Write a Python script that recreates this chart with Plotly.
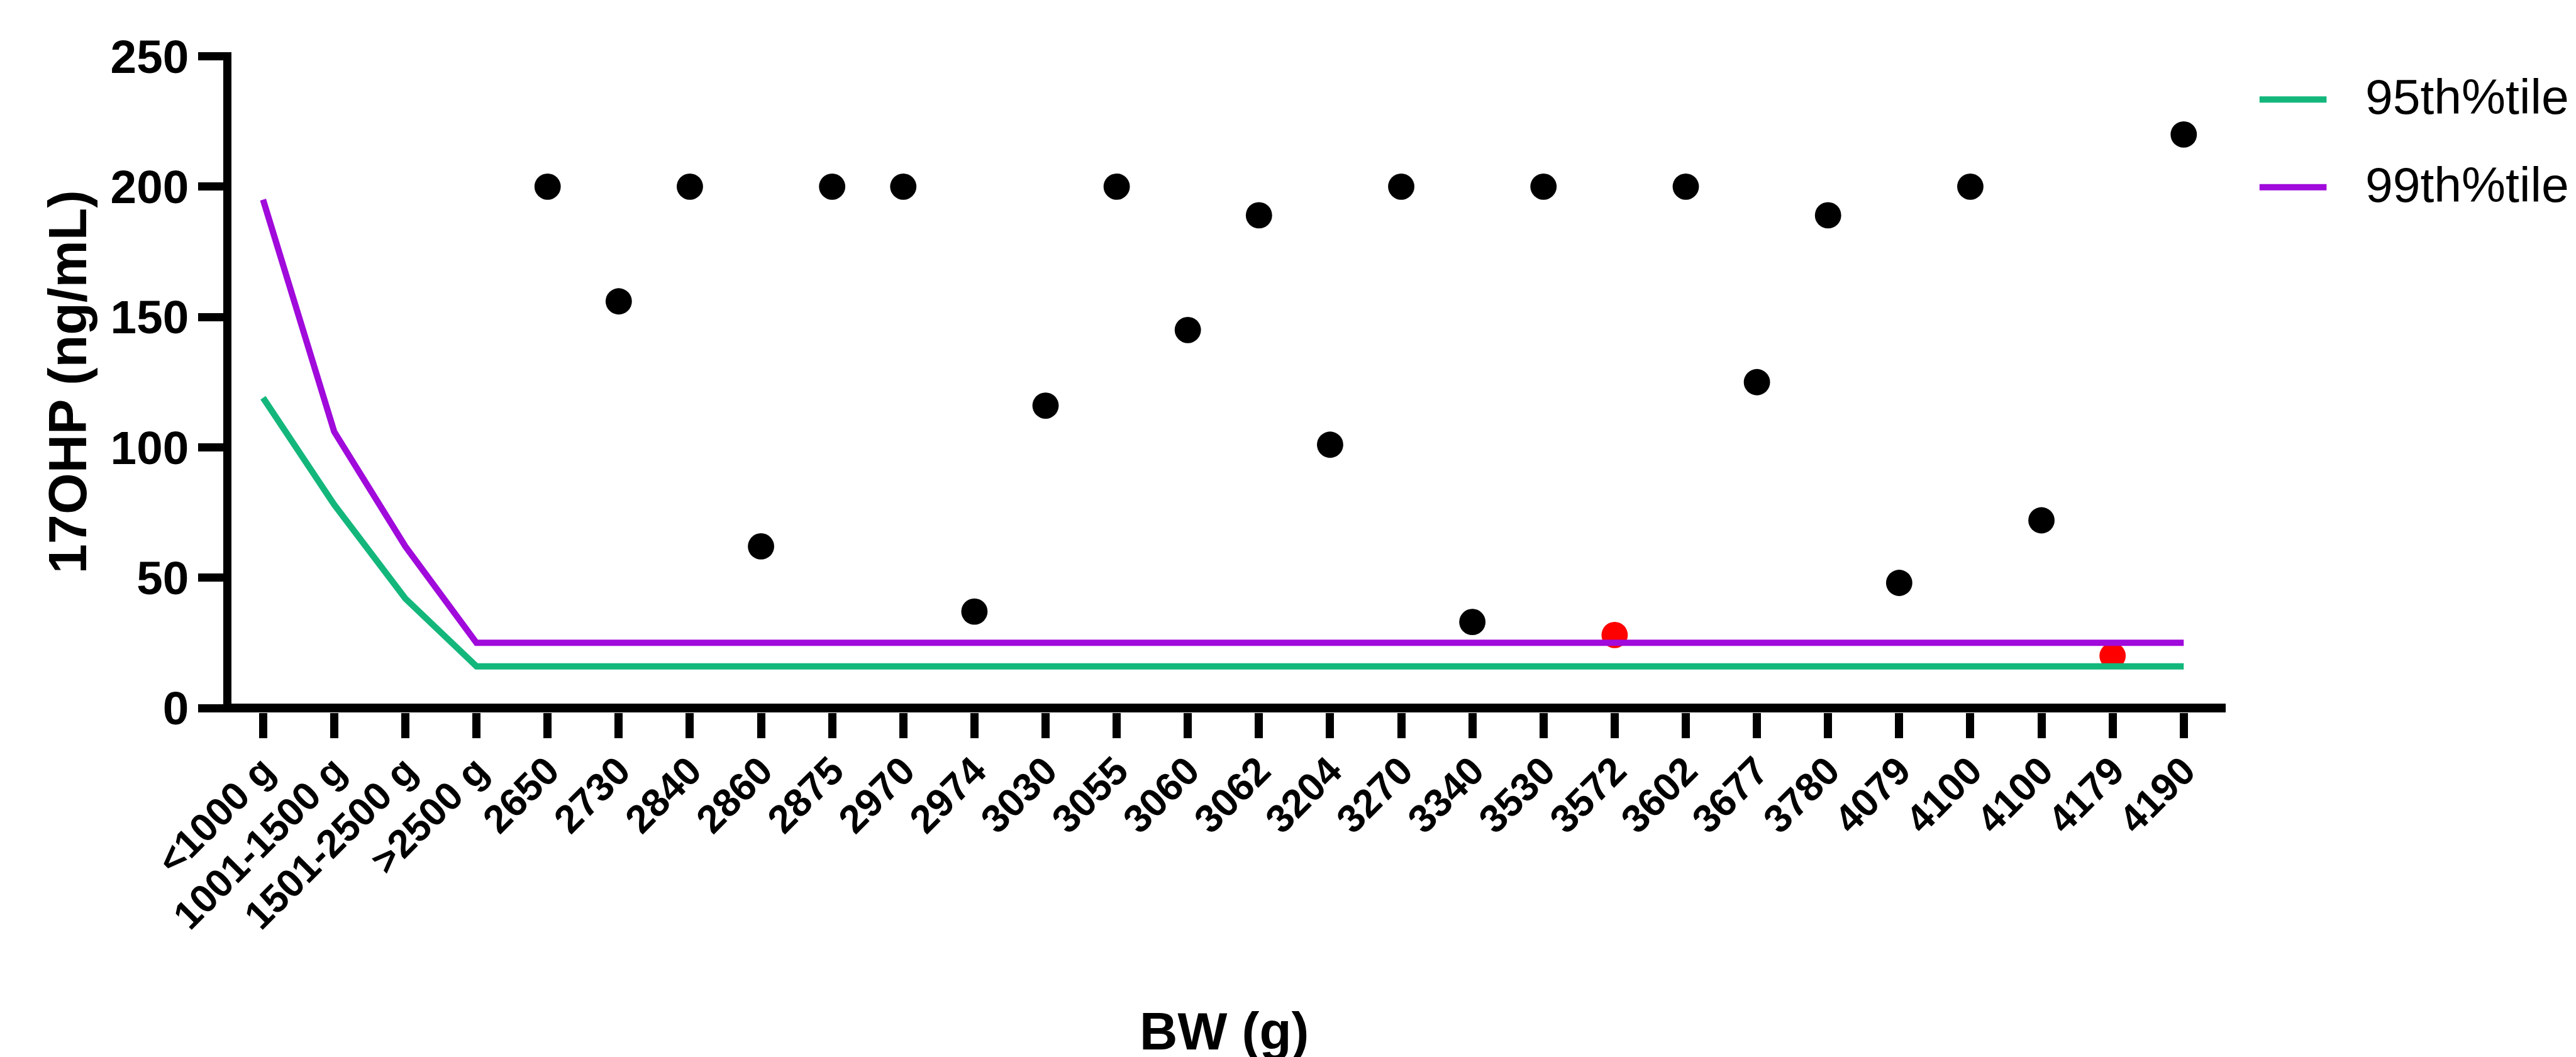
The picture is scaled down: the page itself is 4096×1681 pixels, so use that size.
import plotly.graph_objects as go

# ---------------- data ----------------
group_labels = ["<1000 g", "1001-1500 g", "1501-2500 g", ">2500 g"]
bw_labels = ["2650", "2730", "2840", "2860", "2875", "2970", "2974", "3030",
             "3055", "3060", "3062", "3204", "3270", "3340", "3530", "3572",
             "3602", "3677", "3780", "4079", "4100", "4100", "4179", "4190"]
ohp_values = [200, 156, 200, 62, 200, 200, 37, 116,
              200, 145, 189, 101, 200, 33, 200, 28,
              200, 125, 189, 48, 200, 72, 20, 220]
flagged = [0, 0, 0, 0, 0, 0, 0, 0,
           0, 0, 0, 0, 0, 0, 0, 1,
           0, 0, 0, 0, 0, 0, 1, 0]
p95_groups = [119, 78, 42, 16]
p99_groups = [195, 106, 62, 25]
y_ticks = [0, 50, 100, 150, 200, 250]

all_labels = group_labels + bw_labels
n_all = len(all_labels)
x_all = list(range(n_all))
x_bw = list(range(len(group_labels), n_all))

p95_line = p95_groups + [p95_groups[-1]] * len(bw_labels)
p99_line = p99_groups + [p99_groups[-1]] * len(bw_labels)

# ---------------- geometry ----------------
W, H = 4096, 1681
s = 0.996
FONT = "Arial, Liberation Sans, Helvetica, sans-serif"
GREEN = "#13B77C"
PURPLE = "#A00ADB"
RED = "#FF0000"

ylw = 13          # y axis line width
zlw = 14          # x axis (zero line) width
x0px, xlastpx = 412 * s, 3478 * s
ux = (xlastpx - x0px) / (n_all - 1)
yaxis_center = 355 * s
left_edge = yaxis_center + ylw / 2
right_edge = 3545 * s
xmin = (left_edge - x0px) / ux
xmax = (right_edge - x0px) / ux

y0px, ytoppx = 1122 * s, 82 * s
uy = (y0px - ytoppx) / 250
bottom_edge = y0px + zlw / 2
top_edge = ytoppx - ylw / 2
ymin = -(zlw / 2) / uy
ymax = 250 + (ylw / 2) / uy

pw = right_edge - left_edge
ph = bottom_edge - top_edge


def px2x(px):
    return (px - left_edge) / pw


def py2y(py):
    return (bottom_edge - py) / ph


fig = go.Figure()

black_x = [x for x, f in zip(x_bw, flagged) if not f]
black_y = [v for v, f in zip(ohp_values, flagged) if not f]
red_x = [x for x, f in zip(x_bw, flagged) if f]
red_y = [v for v, f in zip(ohp_values, flagged) if f]

fig.add_trace(go.Scatter(x=black_x, y=black_y, mode="markers",
                         marker=dict(color="black", size=42 * s, line=dict(width=0)),
                         showlegend=False, cliponaxis=False))
fig.add_trace(go.Scatter(x=red_x, y=red_y, mode="markers",
                         marker=dict(color=RED, size=42 * s, line=dict(width=0)),
                         showlegend=False, cliponaxis=False))
fig.add_trace(go.Scatter(x=x_all, y=p95_line, mode="lines", name="95th%tile",
                         line=dict(color=GREEN, width=10 * s), showlegend=False))
fig.add_trace(go.Scatter(x=x_all, y=p99_line, mode="lines", name="99th%tile",
                         line=dict(color=PURPLE, width=10 * s), showlegend=False))

fig.update_layout(
    width=W, height=H,
    margin=dict(l=left_edge, r=W - right_edge, t=top_edge, b=H - bottom_edge, autoexpand=False),
    paper_bgcolor="white", plot_bgcolor="white",
    font=dict(family=FONT, color="black"),
    xaxis=dict(range=[xmin, xmax], showline=False, zeroline=False, showgrid=False,
               tickmode="array", tickvals=x_all, ticktext=all_labels,
               ticks="outside", ticklen=40 * s, tickwidth=13, tickcolor="black",
               tickangle=-45, ticklabelstandoff=-10,
               tickfont=dict(family=FONT, size=63 * s, color="black", weight="bold")),
    yaxis=dict(range=[ymin, ymax], showline=True, linewidth=ylw, linecolor="black",
               zeroline=True, zerolinewidth=zlw, zerolinecolor="black", showgrid=False,
               tickmode="array", tickvals=y_ticks,
               ticks="outside", ticklen=40 * s, tickwidth=13, tickcolor="black",
               tickfont=dict(family=FONT, size=75 * s, color="black", weight="bold")),
    showlegend=False,
)

# axis titles
fig.add_annotation(text="<b>17OHP (ng/mL)</b>", textangle=-90, showarrow=False,
                   xref="paper", yref="paper", x=px2x(100 * s), y=py2y(601 * s),
                   xanchor="center", yanchor="middle",
                   font=dict(family=FONT, size=85 * s, color="black"))
fig.add_annotation(text="<b>BW (g)</b>", showarrow=False,
                   xref="paper", yref="paper", x=px2x(1946 * s), y=py2y(H - 1),
                   xanchor="center", yanchor="bottom",
                   font=dict(family=FONT, size=84 * s, color="black"))

# legend (drawn manually to match long line keys)
leg_items = [("95th%tile", GREEN, 151, 147), ("99th%tile", PURPLE, 291, 287)]
for name, col, ly, ty in leg_items:
    fig.add_shape(type="line", xref="paper", yref="paper",
                  x0=px2x(3599 * s), x1=px2x(3706 * s), y0=py2y(ly * s), y1=py2y(ly * s),
                  line=dict(color=col, width=10 * s))
    fig.add_annotation(text=name, showarrow=False, xref="paper", yref="paper",
                       x=px2x(3766 * s), y=py2y(ty * s), xanchor="left", yanchor="middle",
                       font=dict(family=FONT, size=79 * s, color="black"))

fig.write_html("out.html")
